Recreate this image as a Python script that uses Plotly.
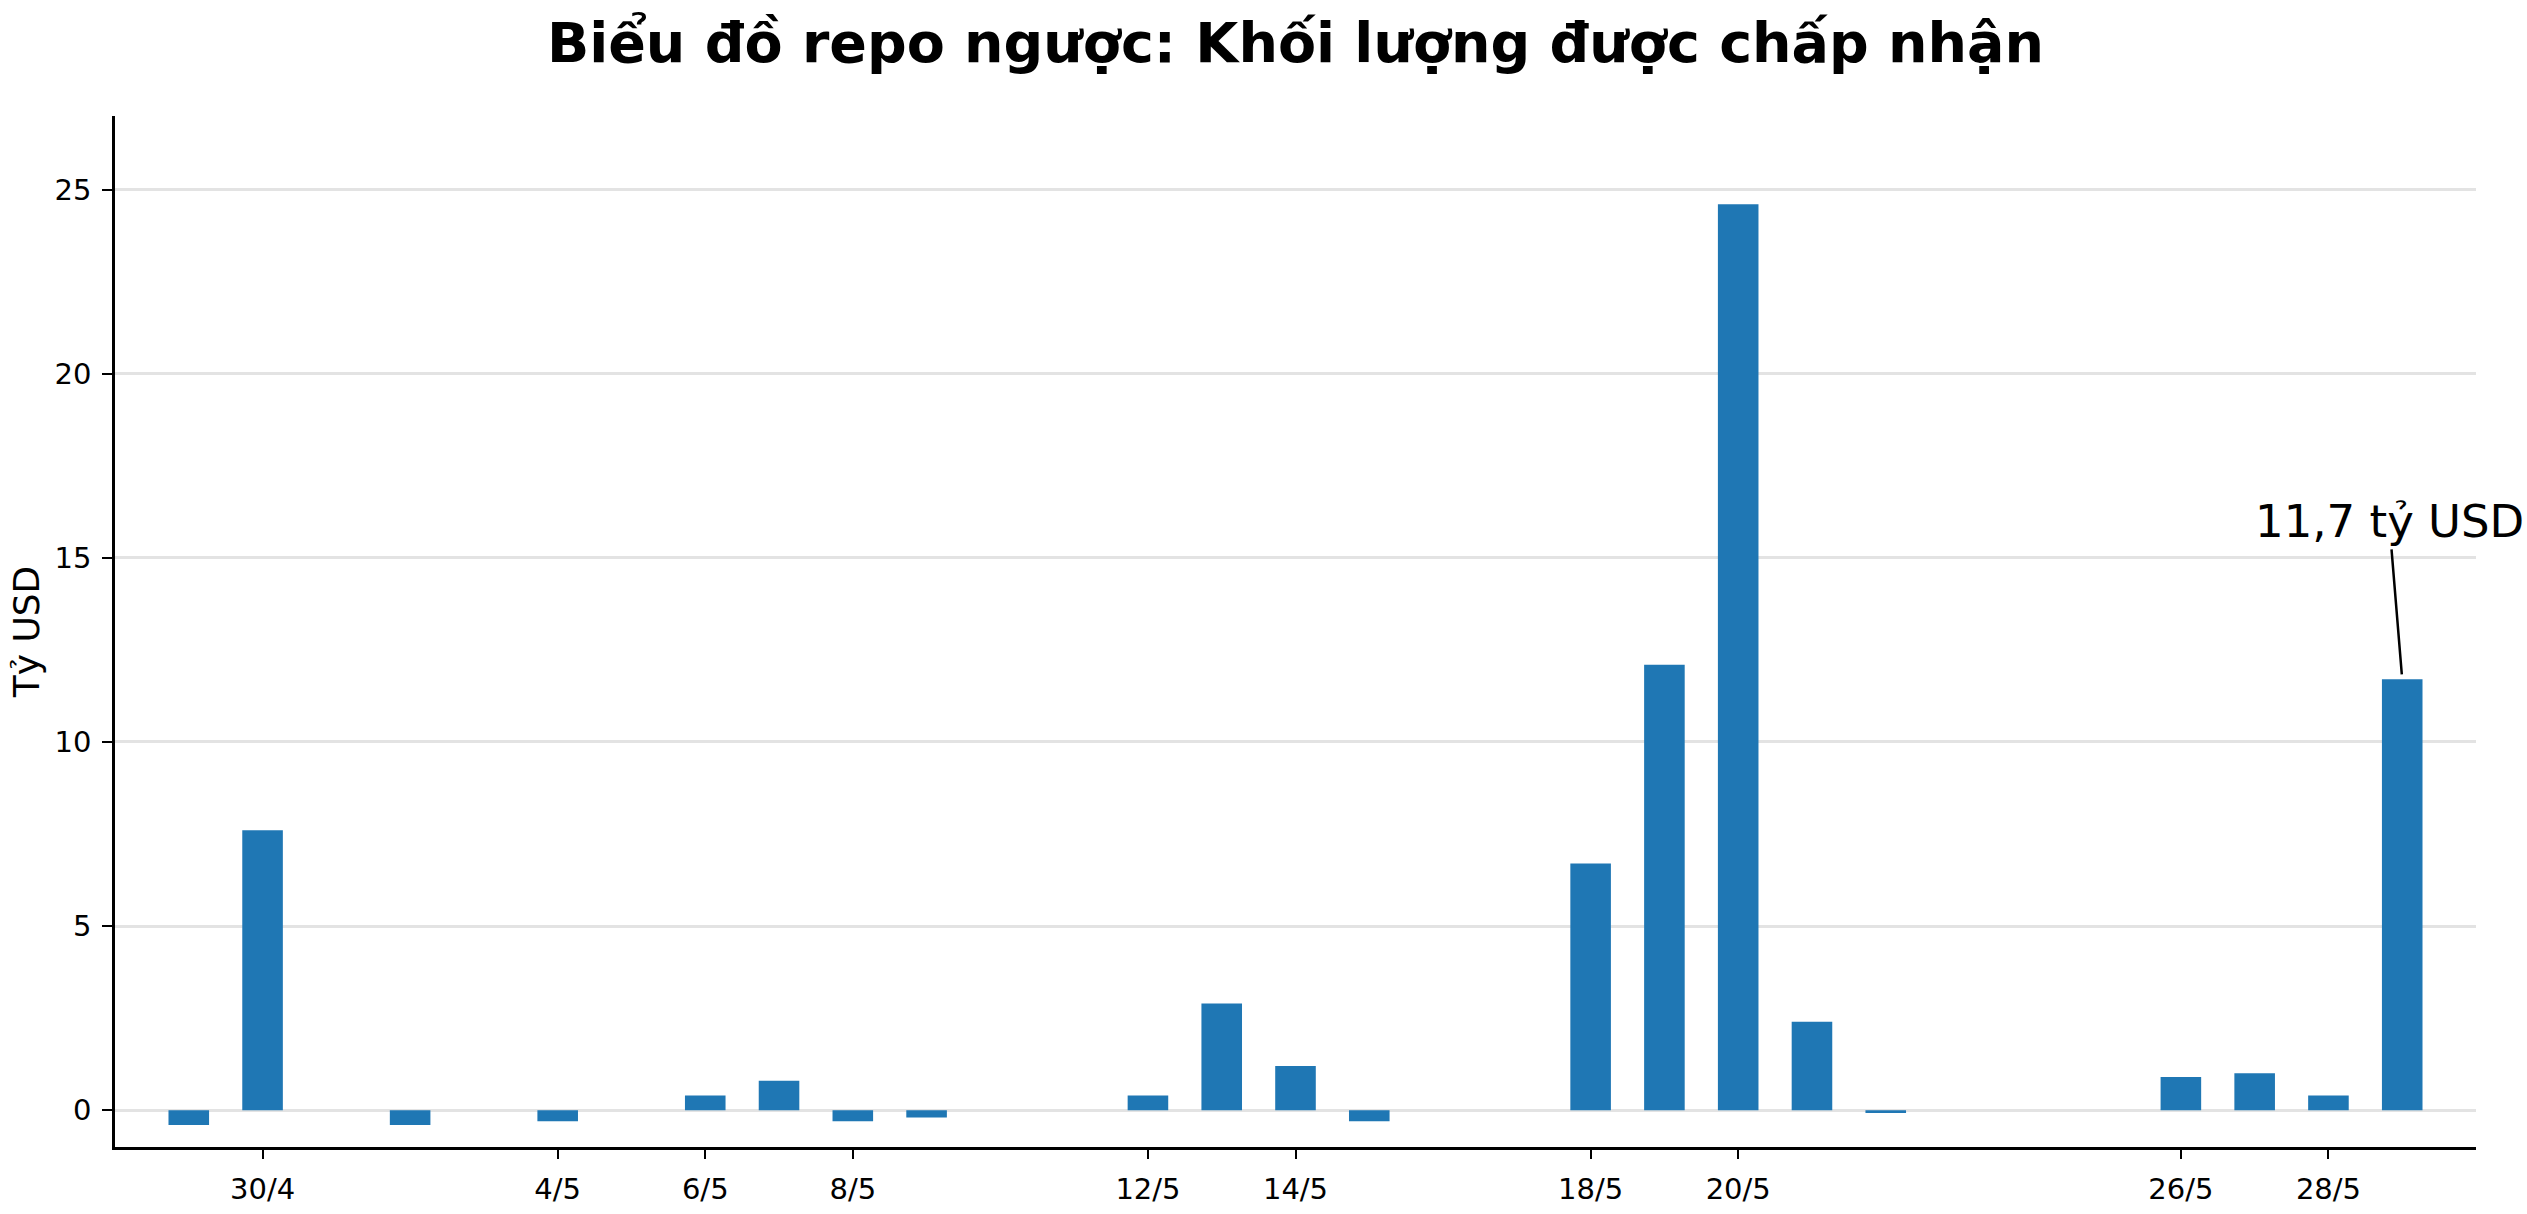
import plotly.graph_objects as go

# ---- data ----
dates = ["2020-04-29", "2020-04-30", "2020-05-02", "2020-05-04", "2020-05-06",
         "2020-05-07", "2020-05-08", "2020-05-09", "2020-05-12", "2020-05-13",
         "2020-05-14", "2020-05-15", "2020-05-18", "2020-05-19", "2020-05-20",
         "2020-05-21", "2020-05-22", "2020-05-26", "2020-05-27", "2020-05-28",
         "2020-05-29"]
values = [-0.4, 7.6, -0.4, -0.3, 0.4,
          0.8, -0.3, -0.2, 0.4, 2.9,
          1.2, -0.3, 6.7, 12.1, 24.6,
          2.4, -0.08, 0.9, 1.0, 0.4,
          11.7]
tick_dates = ["2020-04-30", "2020-05-04", "2020-05-06", "2020-05-08", "2020-05-12",
              "2020-05-14", "2020-05-18", "2020-05-20", "2020-05-26", "2020-05-28"]
tick_labels = ["30/4", "4/5", "6/5", "8/5", "12/5", "14/5", "18/5", "20/5", "26/5", "28/5"]
y_ticks = [0, 5, 10, 15, 20, 25]

title_text = "Biểu đồ repo ngược: Khối lượng được chấp nhận"
y_title = "Tỷ USD"
annot_date = "2020-05-29"
annot_value = 11.7
annot_text = "11,7 tỷ USD"

FONT = "DejaVu Sans"
DAY_MS = 86400000

fig = go.Figure(
    go.Bar(
        x=dates,
        y=values,
        width=0.55 * DAY_MS,
        marker=dict(color="#1f77b4", line=dict(width=0)),
        hoverinfo="skip",
    )
)

fig.update_layout(
    width=2527,
    height=1214,
    margin=dict(l=115, r=51, t=116, b=67),
    paper_bgcolor="white",
    plot_bgcolor="white",
    showlegend=False,
    font=dict(family=FONT, color="black"),
    title=dict(
        text="<b>" + title_text + "</b>",
        font=dict(family=FONT, size=55.5, color="black"),
        x=0.5,
        xref="paper",
        xanchor="center",
        y=1 - 43 / 1214,
        yref="container",
        yanchor="middle",
    ),
    xaxis=dict(
        type="date",
        range=["2020-04-28", "2020-05-30"],
        tickmode="array",
        tickvals=tick_dates,
        ticktext=tick_labels,
        ticks="outside",
        ticklen=9,
        tickwidth=2,
        tickcolor="black",
        showline=True,
        linecolor="black",
        linewidth=2.5,
        showgrid=False,
        zeroline=False,
        automargin=False,
        tickfont=dict(family=FONT, size=29, color="black"),
        ticklabelstandoff=5,
    ),
    yaxis=dict(
        range=[-1, 27],
        tickmode="array",
        tickvals=y_ticks,
        ticks="outside",
        ticklen=10,
        tickwidth=2,
        tickcolor="black",
        showline=True,
        linecolor="black",
        linewidth=2.5,
        showgrid=True,
        gridcolor="rgba(176,176,176,0.35)",
        gridwidth=2.5,
        zeroline=False,
        automargin=False,
        layer="above traces",
        tickfont=dict(family=FONT, size=29, color="black"),
        ticklabelstandoff=5,
        title=dict(text=y_title, font=dict(family=FONT, size=36, color="black"), standoff=4),
    ),
    annotations=[
        dict(
            x=annot_date,
            y=annot_value,
            xref="x",
            yref="y",
            text=annot_text,
            showarrow=True,
            arrowhead=0,
            arrowwidth=2.5,
            arrowcolor="black",
            ax=-13,
            ay=-158,
            standoff=5,
            font=dict(family=FONT, size=45, color="black"),
        )
    ],
)

fig.write_html(
    "out.html",
    config={"displayModeBar": False},
    post_script="document.body.style.margin='0';document.body.style.overflow='hidden';",
)
